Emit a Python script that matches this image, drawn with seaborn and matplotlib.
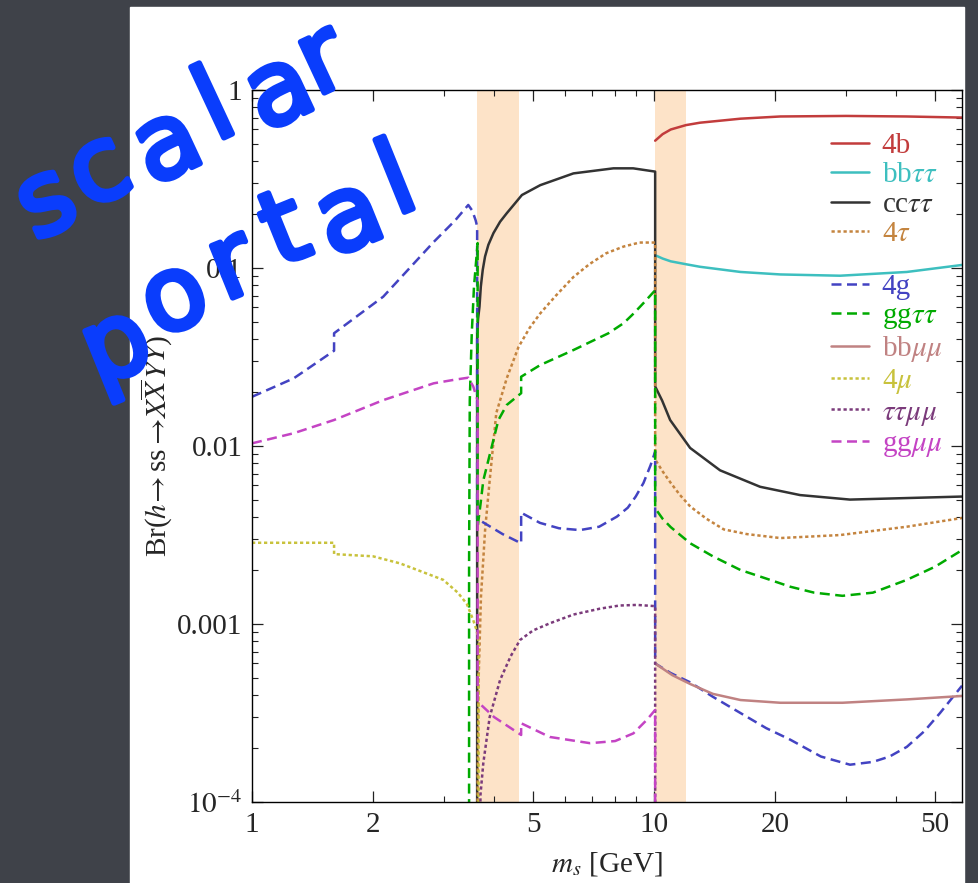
import matplotlib
matplotlib.use("Agg")
import matplotlib.pyplot as plt
import matplotlib.patheffects as pe
from matplotlib.patches import Rectangle
from matplotlib.ticker import FixedLocator, LogLocator, NullFormatter
import seaborn as sns

# ---- values (m_s in GeV, branching ratio) ----
B4_X = [10.06, 10.5, 11.0, 12.0, 13.0, 16.4, 20.6, 30.0, 42.5, 58.3]
B4_Y = [0.519, 0.565, 0.60, 0.635, 0.655, 0.69, 0.71, 0.715, 0.71, 0.70]

BBTT_X = [10.06, 10.5, 11.0, 12.0, 13.0, 16.4, 20.6, 29.0, 42.5, 58.3]
BBTT_Y = [0.118, 0.113, 0.109, 0.105, 0.1016, 0.095, 0.092, 0.0905, 0.095, 0.104]

CCTT_X = [3.63, 3.63, 3.65, 3.679, 3.707, 3.748, 3.798, 3.871, 3.985, 4.14, 4.30, 4.51, 4.69,
          5.21, 6.30, 7.92, 8.87, 10.06,
          10.06, 10.47, 10.96, 12.29, 14.59, 18.35, 23.07, 30.7, 42.5, 58.3]
CCTT_Y = [5e-5, 0.043, 0.052, 0.0606, 0.0785, 0.0975, 0.116, 0.135, 0.157, 0.182, 0.203, 0.231, 0.257,
          0.292, 0.34, 0.363, 0.363, 0.348,
          0.0216, 0.018, 0.014, 0.00975, 0.0073, 0.0059, 0.0053, 0.0050, 0.0051, 0.0052]

TAU4_X = [3.635, 3.64, 3.66, 3.71, 3.80, 3.90, 4.05, 4.30, 4.60, 4.9, 5.21, 5.7, 6.30, 6.9, 7.6, 8.4, 9.2, 10.06,
          10.06, 10.5, 11.0, 11.6, 12.3, 13.5, 14.9, 17.0, 20.6, 29.0, 42.5, 58.3]
TAU4_Y = [5e-5, 0.00013, 0.000485, 0.00142, 0.0034, 0.0064, 0.0153, 0.024, 0.036, 0.046, 0.0556, 0.07, 0.089,
          0.105, 0.121, 0.132, 0.139, 0.139,
          0.0084, 0.0072, 0.0062, 0.0053, 0.00457, 0.0039, 0.0034, 0.0032, 0.00304, 0.00316, 0.00352, 0.00394]

G4_X = [1.0, 1.27, 1.6, 1.6, 2.12, 2.83, 3.2, 3.45, 3.53, 3.60, 3.63,
        3.63, 3.76, 4.2, 4.67, 4.67, 5.2, 5.8, 6.54, 7.3, 8.08, 8.6, 9.0, 9.41, 9.8, 10.06,
        10.06, 11.0, 12.3, 14.0, 16.4, 19.0, 21.8, 26.0, 30.7, 35.0, 38.5, 42.5, 47.0, 51.4, 58.3]
G4_Y = [0.0189, 0.024, 0.0343, 0.043, 0.069, 0.14, 0.185, 0.226, 0.21, 0.185, 0.171,
        0.0039, 0.00372, 0.0032, 0.00284, 0.00422, 0.0037, 0.00345, 0.00337, 0.00352, 0.00401, 0.0045, 0.0052,
        0.0062, 0.0078, 0.0093,
        0.0006, 0.00053, 0.00047, 0.00039, 0.000316, 0.00026, 0.000224, 0.00018, 0.000162, 0.000168, 0.00018,
        0.000204, 0.00025, 0.000316, 0.00045]

GGTT_X = [3.466, 3.466, 3.48, 3.52, 3.565, 3.64, 3.64, 3.70, 3.76, 4.10, 4.30, 4.67, 4.67,
          5.21, 6.30, 7.7, 8.4, 8.9, 9.5, 10.06,
          10.06, 10.5, 11.0, 12.3, 14.0, 16.4, 19.0, 21.8, 25.0, 29.4, 35.0, 42.5, 50.0, 58.3]
GGTT_Y = [5e-5, 0.0021, 0.018, 0.043, 0.0785, 0.138, 0.0035, 0.0047, 0.0064, 0.014, 0.017, 0.0198, 0.0245,
          0.0285, 0.0346, 0.043, 0.049, 0.0556, 0.065, 0.075,
          0.00447, 0.0039, 0.0035, 0.00284, 0.0024, 0.00201, 0.0018, 0.00162, 0.0015, 0.00144, 0.0015, 0.00177,
          0.0021, 0.0026]

BBMM_X = [10.06, 11.1, 12.3, 14.0, 16.4, 20.6, 29.4, 42.5, 58.3]
BBMM_Y = [0.0006, 0.000516, 0.00046, 0.000405, 0.000374, 0.000361, 0.000361, 0.000377, 0.000394]

MU4_X = [1.0, 1.6, 1.6, 2.0, 2.335, 2.99, 3.25, 3.42, 3.55, 3.62, 3.66, 3.66]
MU4_Y = [0.00286, 0.00286, 0.00247, 0.0024, 0.00219, 0.00177, 0.0015, 0.0013, 0.00105, 0.00092, 0.0008, 5e-5]

TTMM_X = [3.685, 3.70, 3.76, 3.9, 4.14, 4.4, 4.64, 5.0, 5.51, 6.3, 7.34, 8.2, 9.06, 10.06, 10.06]
TTMM_Y = [5e-5, 0.00011, 0.000165, 0.0003, 0.000485, 0.00066, 0.000813, 0.00092, 0.00101, 0.00113, 0.00122,
          0.00127, 0.00128, 0.00126, 5e-5]

GGMM_X = [1.0, 1.27, 1.6, 2.12, 2.83, 3.2, 3.45, 3.55, 3.64, 3.64, 4.0, 4.67, 4.67,
          5.5, 6.93, 8.0, 8.88, 9.6, 10.06, 10.06]
GGMM_Y = [0.01035, 0.0118, 0.014, 0.0181, 0.0225, 0.0236, 0.0242, 0.0216, 0.018, 0.000366, 0.0003, 0.000238,
          0.000277, 0.000232, 0.000214, 0.00022, 0.000243, 0.00029, 0.000329, 5e-5]

LABELS = ["4b", r"bb$\tau\tau$", r"cc$\tau\tau$", r"4$\tau$",
          "4g", r"gg$\tau\tau$", r"bb$\mu\mu$", r"4$\mu$", r"$\tau\tau\mu\mu$", r"gg$\mu\mu$"]
COLORS = ["#c23c3c", "#3dbfbf", "#333333", "#c4843f",
          "#4343c2", "#00aa00", "#c08282", "#c8c23c", "#7b3b7b", "#c444c4"]
STYLES = ["solid", "solid", "solid", "dot", "dash", "dash", "solid", "dot", "dot", "dash"]
XS = [B4_X, BBTT_X, CCTT_X, TAU4_X, G4_X, GGTT_X, BBMM_X, MU4_X, TTMM_X, GGMM_X]
YS = [B4_Y, BBTT_Y, CCTT_Y, TAU4_Y, G4_Y, GGTT_Y, BBMM_Y, MU4_Y, TTMM_Y, GGMM_Y]

BANDS = [(3.62, 4.60), (10.06, 12.0)]
X_MAJOR = [1, 2, 5, 10, 20, 50]
X_MINOR = [3, 4, 6, 7, 8, 9, 30, 40]
Y_MAJOR = [1e-4, 1e-3, 1e-2, 1e-1, 1]
Y_LABELS = [r"$10^{-4}$", "0.001", "0.01", "0.1", "1"]

DASHES = {"solid": "-", "dash": (0, (4.0, 2.2)), "dot": (0, (1.3, 1.1))}

BOARD = "#3f4249"
INK = "#0a3dfc"

sns.set_theme(style="ticks")
plt.rcParams["font.family"] = ["Liberation Serif", "DejaVu Serif"]
plt.rcParams["mathtext.fontset"] = "stix"

W, H = 979, 883
fig = plt.figure(figsize=(W / 100, H / 100), dpi=100, facecolor=BOARD)
# white slide panel behind the plot
fig.patches.append(Rectangle((130 / W, 0), (964 - 130) / W, 1 - 7 / H,
                             transform=fig.transFigure, color="white", zorder=-10))
ax = fig.add_axes([252 / W, 1 - 802 / H, 710 / W, 712 / H])
ax.set_xscale("log")
ax.set_yscale("log")

for lo, hi in BANDS:
    ax.axvspan(lo, hi, color="#fde3c8", lw=0, zorder=0)

for label, xs, ys, color, style in zip(LABELS, XS, YS, COLORS, STYLES):
    sns.lineplot(x=xs, y=ys, ax=ax, color=color, linestyle=DASHES[style], lw=1.8,
                 sort=False, estimator=None, label=label, legend=False)

ax.set_xlim(1, 58.3)
ax.set_ylim(1e-4, 1)

ax.xaxis.set_major_locator(FixedLocator(X_MAJOR))
ax.xaxis.set_minor_locator(FixedLocator(X_MINOR))
ax.set_xticklabels([str(v) for v in X_MAJOR])
ax.xaxis.set_minor_formatter(NullFormatter())
ax.yaxis.set_major_locator(FixedLocator(Y_MAJOR))
ax.set_yticklabels(Y_LABELS)
ax.yaxis.set_minor_locator(LogLocator(base=10, subs=range(2, 10)))
ax.yaxis.set_minor_formatter(NullFormatter())

ax.tick_params(which="both", direction="in", top=True, right=True, color="#222222", labelsize=21)
ax.tick_params(which="major", length=8, width=0.9, pad=7)
ax.tick_params(which="minor", length=4.5, width=0.8)
for sp in ax.spines.values():
    sp.set_color("black")
    sp.set_linewidth(1.0)

ax.set_xlabel(r"$m_s$ [GeV]", fontsize=21, labelpad=9)
ax.set_ylabel(r"Br($h\!\rightarrow$ss$\rightarrow\!X\overline{X}\,Y\overline{Y}$)", fontsize=21, labelpad=2)

handles, labels = ax.get_legend_handles_labels()
leg_kw = dict(frameon=False, loc="upper left", borderpad=0, borderaxespad=0, fontsize=21,
              handlelength=1.3, handletextpad=0.45, labelspacing=0.1, labelcolor="linecolor")
leg1 = ax.legend(handles[:4], labels[:4], bbox_to_anchor=(0.815, 0.94), **leg_kw)
ax.add_artist(leg1)
ax.legend(handles[4:], labels[4:], bbox_to_anchor=(0.815, 0.742), **leg_kw)

# hand-written annotation on the slide
stroke = [pe.withStroke(linewidth=4, foreground=INK)]
for ch, (px, py) in zip("scalar", [(47, 204), (100, 172), (168, 147), (216, 110), (280, 93), (323, 62)]):
    fig.text(px / W, 1 - py / H, ch, color=INK, fontsize=74, family="DejaVu Sans",
             ha="center", va="center", rotation=25, rotation_mode="anchor", path_effects=stroke)
for ch, (px, py) in zip("portal", [(117, 348), (175, 300), (233, 267), (286, 233), (350, 219), (398, 184)]):
    fig.text(px / W, 1 - py / H, ch, color=INK, fontsize=74, family="DejaVu Sans",
             ha="center", va="center", rotation=22, rotation_mode="anchor", path_effects=stroke)

fig.savefig("out.png", dpi=100, facecolor=BOARD)
